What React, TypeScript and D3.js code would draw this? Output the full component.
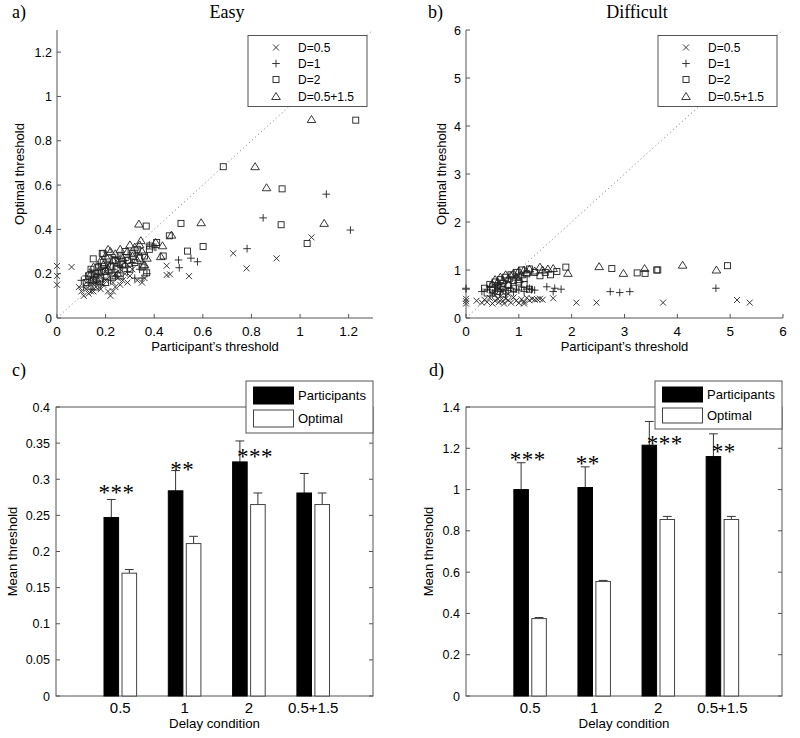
import React from 'react';
import * as d3 from 'd3';

const SANS = '"Liberation Sans", Arial, Helvetica, sans-serif';
const SERIF = '"Liberation Serif", "Times New Roman", serif';

type Pt = [number, number];

// ---------- scatter data (participant threshold, optimal threshold) ----------
const seriesNames = ['D=0.5', 'D=1', 'D=2', 'D=0.5+1.5'];
const markerTypes = ['x', 'plus', 'square', 'triangle'];

const easyD05: Pt[] = [
  [0.10, 0.12], [0.11, 0.10], [0.12, 0.13], [0.13, 0.11], [0.14, 0.15], [0.15, 0.12], [0.15, 0.17], [0.16, 0.14],
  [0.17, 0.16], [0.18, 0.13], [0.18, 0.19], [0.19, 0.15], [0.20, 0.17], [0.20, 0.21], [0.21, 0.12], [0.22, 0.19],
  [0.22, 0.10], [0.23, 0.12], [0.23, 0.16], [0.24, 0.20], [0.25, 0.18], [0.26, 0.22], [0.27, 0.17], [0.28, 0.20],
  [0.29, 0.16], [0.30, 0.19], [0.31, 0.22], [0.33, 0.17], [0.35, 0.16], [0.36, 0.18], [0.13, 0.18], [0.16, 0.20],
  [0.19, 0.22], [0.09, 0.14], [0.12, 0.16], [0.26, 0.15], [0.24, 0.14], [0.21, 0.24], [0.29, 0.24], [0.14, 0.12],
  [0.0, 0.235], [0.0, 0.19], [0.0, 0.15], [0.06, 0.23], [0.451, 0.236], [0.451, 0.194], [0.465, 0.197],
  [0.543, 0.189], [0.725, 0.292], [0.78, 0.224], [0.903, 0.269], [1.047, 0.364],
];
const easyD1: Pt[] = [
  [0.11, 0.14], [0.12, 0.19], [0.13, 0.16], [0.14, 0.21], [0.15, 0.18], [0.16, 0.16], [0.17, 0.20], [0.18, 0.22],
  [0.19, 0.18], [0.20, 0.23], [0.21, 0.20], [0.22, 0.25], [0.23, 0.22], [0.24, 0.19], [0.25, 0.24], [0.26, 0.27],
  [0.27, 0.23], [0.28, 0.26], [0.29, 0.21], [0.30, 0.28], [0.31, 0.25], [0.32, 0.18], [0.33, 0.29], [0.34, 0.22],
  [0.35, 0.18], [0.37, 0.20], [0.38, 0.33], [0.40, 0.32], [0.14, 0.13], [0.18, 0.15], [0.22, 0.17], [0.10, 0.17],
  [0.17, 0.24], [0.24, 0.27], [0.407, 0.319], [0.50, 0.262], [0.503, 0.227], [0.551, 0.27], [0.578, 0.254],
  [0.782, 0.313], [0.848, 0.452], [1.108, 0.559], [1.207, 0.397],
];
const easyD2: Pt[] = [
  [0.12, 0.16], [0.13, 0.19], [0.14, 0.22], [0.15, 0.17], [0.16, 0.20], [0.17, 0.23], [0.18, 0.18], [0.19, 0.25],
  [0.20, 0.21], [0.21, 0.27], [0.22, 0.23], [0.23, 0.19], [0.24, 0.26], [0.25, 0.22], [0.26, 0.28], [0.27, 0.24],
  [0.28, 0.30], [0.29, 0.26], [0.30, 0.22], [0.31, 0.29], [0.32, 0.25], [0.33, 0.31], [0.34, 0.27], [0.35, 0.23],
  [0.36, 0.28], [0.38, 0.31], [0.16, 0.14], [0.20, 0.16], [0.26, 0.19], [0.19, 0.29], [0.149, 0.267],
  [0.186, 0.292], [0.367, 0.415], [0.369, 0.204], [0.382, 0.325], [0.41, 0.341], [0.437, 0.28], [0.462, 0.371],
  [0.51, 0.427], [0.537, 0.302], [0.601, 0.323], [0.684, 0.683], [0.922, 0.421], [0.926, 0.583], [1.029, 0.336],
  [1.229, 0.893],
];
const easyD0515: Pt[] = [
  [0.14, 0.20], [0.15, 0.23], [0.17, 0.21], [0.18, 0.26], [0.19, 0.24], [0.20, 0.28], [0.21, 0.22], [0.22, 0.30],
  [0.23, 0.26], [0.24, 0.29], [0.25, 0.25], [0.26, 0.31], [0.27, 0.27], [0.28, 0.24], [0.29, 0.30], [0.30, 0.33],
  [0.31, 0.28], [0.32, 0.32], [0.33, 0.26], [0.35, 0.30], [0.36, 0.24], [0.37, 0.27], [0.16, 0.18], [0.21, 0.31],
  [0.25, 0.20], [0.34, 0.33], [0.337, 0.424], [0.345, 0.349], [0.357, 0.239], [0.406, 0.341], [0.427, 0.277],
  [0.434, 0.326], [0.471, 0.374], [0.593, 0.43], [0.815, 0.683], [0.862, 0.588], [1.047, 0.896], [1.099, 0.427],
];

const diffD05: Pt[] = [
  [0, 0.30], [0, 0.35], [0, 0.40], [0.2, 0.36], [0.3, 0.32], [0.35, 0.38], [0.4, 0.33], [0.45, 0.42], [0.5, 0.30],
  [0.55, 0.36], [0.6, 0.40], [0.62, 0.33], [0.65, 0.45], [0.7, 0.35], [0.72, 0.30], [0.75, 0.40], [0.8, 0.37],
  [0.85, 0.32], [0.9, 0.43], [0.95, 0.36], [1.0, 0.31], [1.05, 0.39], [1.1, 0.34], [1.15, 0.42], [1.2, 0.37],
  [1.25, 0.40], [1.3, 0.38], [1.35, 0.39], [1.4, 0.40], [1.45, 0.38], [1.1, 0.30], [0.55, 0.48], [0.8, 0.50],
  [0.5, 0.50], [0.68, 0.55], [1.65, 0.41], [2.09, 0.32], [2.47, 0.32], [3.73, 0.32], [5.13, 0.375], [5.37, 0.32],
];
const diffD1: Pt[] = [
  [0, 0.60], [0, 0.62], [0.3, 0.55], [0.4, 0.60], [0.5, 0.52], [0.55, 0.58], [0.6, 0.64], [0.65, 0.55], [0.7, 0.60],
  [0.75, 0.50], [0.8, 0.57], [0.85, 0.62], [0.9, 0.54], [0.95, 0.60], [1.0, 0.58], [1.05, 0.65], [1.1, 0.55],
  [1.15, 0.60], [1.2, 0.62], [1.24, 0.59], [1.3, 0.58], [1.53, 0.65], [1.65, 0.55], [1.68, 0.62], [1.8, 0.60],
  [2.73, 0.55], [2.91, 0.53], [3.1, 0.55], [4.73, 0.62], [0.45, 0.66], [0.6, 0.70],
];
const diffD2: Pt[] = [
  [0.35, 0.62], [0.4, 0.52], [0.45, 0.70], [0.5, 0.60], [0.55, 0.75], [0.6, 0.66], [0.65, 0.80], [0.7, 0.72],
  [0.75, 0.85], [0.8, 0.68], [0.85, 0.90], [0.9, 0.78], [0.95, 0.95], [1.0, 0.85], [1.05, 1.0], [1.1, 0.70],
  [1.15, 0.92], [1.2, 0.60], [1.2, 1.02], [1.3, 0.95], [1.4, 0.88], [1.5, 0.95], [1.6, 0.90], [1.72, 0.97],
  [1.89, 1.06], [2.76, 1.03], [3.24, 0.94], [3.39, 0.93], [3.61, 1.0], [3.63, 1.0], [4.95, 1.09], [0.6, 0.55],
  [0.9, 0.62], [1.0, 0.75], [0.7, 0.50], [1.1, 0.82],
];
const diffD0515: Pt[] = [
  [0.5, 0.70], [0.55, 0.80], [0.6, 0.75], [0.65, 0.85], [0.7, 0.78], [0.75, 0.90], [0.8, 0.82], [0.85, 0.88],
  [0.9, 0.93], [0.95, 0.85], [1.0, 0.98], [1.05, 0.90], [1.1, 1.0], [1.15, 0.95], [1.2, 1.02], [1.3, 0.98],
  [1.4, 1.06], [1.45, 1.0], [1.55, 1.02], [1.65, 1.03], [1.93, 0.93], [2.52, 1.07], [2.98, 0.93], [3.38, 1.03],
  [4.10, 1.10], [4.74, 1.0], [0.6, 0.62], [0.8, 0.70], [1.0, 0.80], [0.7, 0.65],
];

const easyTicks = [0, 0.2, 0.4, 0.6, 0.8, 1, 1.2];
const diffTicks = [0, 1, 2, 3, 4, 5, 6];

// ---------- bar data ----------
const delayConditions = ['0.5', '1', '2', '0.5+1.5'];
const barNames = ['Participants', 'Optimal'];
const easyParticipantMean = [0.247, 0.284, 0.324, 0.281];
const easyParticipantSem = [0.025, 0.028, 0.029, 0.027];
const easyOptimalMean = [0.170, 0.211, 0.265, 0.265];
const easyOptimalSem = [0.005, 0.010, 0.016, 0.016];
const diffParticipantMean = [1.0, 1.01, 1.215, 1.16];
const diffParticipantSem = [0.13, 0.10, 0.115, 0.11];
const diffOptimalMean = [0.375, 0.555, 0.855, 0.855];
const diffOptimalSem = [0.005, 0.005, 0.015, 0.015];
const easyStars = ['***', '**', '***', ''];
const diffStars = ['***', '**', '***', '**'];
const easyBarTicks = [0, 0.05, 0.1, 0.15, 0.2, 0.25, 0.3, 0.35, 0.4];
const diffBarTicks = [0, 0.2, 0.4, 0.6, 0.8, 1, 1.2, 1.4];

const fmt = (v: number) => String(+v.toFixed(2));
const AX = '#555';
const MK = '#222';

function Marker({ type, cx, cy }: { type: string; cx: number; cy: number }) {
  const p = { stroke: MK, strokeWidth: 0.9, fill: 'none' } as any;
  if (type === 'x') return <path d={`M${cx - 3},${cy - 3}L${cx + 3},${cy + 3}M${cx - 3},${cy + 3}L${cx + 3},${cy - 3}`} {...p} />;
  if (type === 'plus') return <path d={`M${cx - 3.8},${cy}L${cx + 3.8},${cy}M${cx},${cy - 3.8}L${cx},${cy + 3.8}`} {...p} />;
  if (type === 'square') return <rect x={cx - 3} y={cy - 3} width={6} height={6} {...p} />;
  return <path d={`M${cx},${cy - 4}L${cx + 4.3},${cy + 3}L${cx - 4.3},${cy + 3}Z`} {...p} />;
}

function Scatter(props: {
  left: number; right: number; top: number; bottom: number; max: number; ticks: number[];
  series: Pt[][]; letter: string; title: string; titleX: number; letterX: number; ylabX: number;
}) {
  const { left, right, top, bottom, max, ticks, series } = props;
  const x = d3.scaleLinear().domain([0, max]).range([left, right]);
  const y = d3.scaleLinear().domain([0, max]).range([bottom, top]);
  const lgW = 119, lgH = 71;
  const lgX = right - 6 - lgW, lgY = top + 5.5;
  const rows = [12, 28, 44, 61];
  return (
    <g>
      <text x={props.letterX} y={18} fontFamily={SERIF} fontSize={18}>{props.letter}</text>
      <text x={props.titleX} y={18} fontFamily={SERIF} fontSize={18} textAnchor="middle">{props.title}</text>
      <line x1={x(0)} y1={y(0)} x2={x(max)} y2={y(max)} stroke="#777" strokeWidth={1} strokeDasharray="1,3" />
      {series.map((s, i) => s.map((d, j) => <Marker key={i + '-' + j} type={markerTypes[i]} cx={x(d[0])} cy={y(d[1])} />))}
      <line x1={left} y1={bottom} x2={right} y2={bottom} stroke={AX} />
      <line x1={left} y1={bottom} x2={left} y2={top} stroke={AX} />
      {ticks.map(t => (
        <g key={'t' + t}>
          <line x1={x(t)} x2={x(t)} y1={bottom} y2={bottom - 4} stroke={AX} />
          <line x1={left} x2={left + 4} y1={y(t)} y2={y(t)} stroke={AX} />
          <text x={x(t)} y={bottom + 18} fontFamily={SANS} fontSize={13.5} textAnchor="middle">{fmt(t)}</text>
          <text x={left - 5} y={y(t) + 4.5} fontFamily={SANS} fontSize={12.5} textAnchor="end">{fmt(t)}</text>
        </g>
      ))}
      <text x={(left + right) / 2} y={351} fontFamily={SANS} fontSize={13} textAnchor="middle">Participant’s threshold</text>
      <text transform={`translate(${props.ylabX},${(top + bottom) / 2}) rotate(-90)`} fontFamily={SANS} fontSize={13} textAnchor="middle">Optimal threshold</text>
      <rect x={lgX} y={lgY} width={lgW} height={lgH} fill="#fff" stroke={AX} />
      {seriesNames.map((n, i) => (
        <g key={n}>
          <Marker type={markerTypes[i]} cx={lgX + 28} cy={lgY + rows[i]} />
          <text x={lgX + 50} y={lgY + rows[i] + 4.5} fontFamily={SANS} fontSize={12}>{n}</text>
        </g>
      ))}
    </g>
  );
}

function Bars(props: {
  left: number; right: number; top: number; bottom: number; max: number; ticks: number[];
  pMean: number[]; pSem: number[]; oMean: number[]; oSem: number[]; stars: string[];
  starPos: [number, number][]; letter: string; letterX: number; ylabX: number; lgTop: number; lgH: number;
}) {
  const { left, right, top, bottom, max, ticks } = props;
  const x = d3.scaleLinear().domain([0, 4.93]).range([left, right]);
  const y = d3.scaleLinear().domain([0, max]).range([bottom, top]);
  const bw = x(0.227) - x(0);
  const off = 0.14;
  const cap = 4.4;
  const lgW = 127, lgX = right - lgW;
  const sw = [props.lgTop + 6, props.lgTop + props.lgH / 2 + 3];
  const swH = (props.lgH - 18) / 2;
  const bar = (i: number, m: number, s: number, dark: boolean) => {
    const cx = x(i + 1 + (dark ? -off : off));
    return (
      <g key={(dark ? 'p' : 'o') + i}>
        <line x1={cx} x2={cx} y1={y(m)} y2={y(m + s)} stroke="#333" />
        <line x1={cx - cap} x2={cx + cap} y1={y(m + s)} y2={y(m + s)} stroke="#333" />
        <rect x={cx - bw / 2} y={y(m)} width={bw} height={y(0) - y(m)} fill={dark ? '#000' : '#fff'} stroke={dark ? '#000' : '#444'} strokeWidth={1} />
      </g>
    );
  };
  return (
    <g>
      <text x={props.letterX} y={376} fontFamily={SERIF} fontSize={18}>{props.letter}</text>
      <rect x={left} y={top} width={right - left} height={bottom - top} fill="none" stroke={AX} />
      {ticks.map(t => (
        <g key={'t' + t}>
          <line x1={left} x2={left + 4} y1={y(t)} y2={y(t)} stroke={AX} />
          <line x1={right} x2={right - 4} y1={y(t)} y2={y(t)} stroke={AX} />
          <text x={left - 6} y={y(t) + 4.5} fontFamily={SANS} fontSize={12.5} textAnchor="end">{fmt(t)}</text>
        </g>
      ))}
      {props.pMean.map((m, i) => bar(i, m, props.pSem[i], true))}
      {props.oMean.map((m, i) => bar(i, m, props.oSem[i], false))}
      {props.stars.map((s, i) => s ? (
        <text key={'s' + i} x={x(i + 1 + props.starPos[i][0])} y={y(props.starPos[i][1]) + 11} fontFamily={SERIF} fontSize={23} letterSpacing={0.5} textAnchor="middle">{s}</text>
      ) : null)}
      {delayConditions.map((c, i) => (
        <text key={c} x={x(i + 1)} y={713} fontFamily={SANS} fontSize={15} textAnchor="middle">{c}</text>
      ))}
      <text x={(left + right) / 2} y={728} fontFamily={SANS} fontSize={13.3} textAnchor="middle">Delay condition</text>
      <text transform={`translate(${props.ylabX},${(top + bottom) / 2}) rotate(-90)`} fontFamily={SANS} fontSize={13} textAnchor="middle">Mean threshold</text>
      <rect x={lgX} y={props.lgTop} width={lgW} height={props.lgH} fill="#fff" stroke={AX} />
      {barNames.map((n, i) => (
        <g key={n}>
          <rect x={lgX + 7.5} y={sw[i]} width={40} height={swH} fill={i === 0 ? '#000' : '#fff'} stroke={i === 0 ? '#000' : '#444'} />
          <text x={lgX + 52} y={sw[i] + swH / 2 + 4.8} fontFamily={SANS} fontSize={13}>{n}</text>
        </g>
      ))}
    </g>
  );
}

export default function App() {
  return (
    <svg width={800} height={738} style={{ position: 'absolute', left: 0, top: 0, background: '#fff' }}>
      <rect width={800} height={738} fill="#fff" />
      <Scatter left={57} right={373} top={30} bottom={318} max={1.3} ticks={easyTicks}
        series={[easyD05, easyD1, easyD2, easyD0515]} letter="a)" title="Easy" titleX={227} letterX={12} ylabX={24} />
      <Scatter left={466} right={783} top={30} bottom={318} max={6} ticks={diffTicks}
        series={[diffD05, diffD1, diffD2, diffD0515]} letter="b)" title="Difficult" titleX={637} letterX={428} ylabX={446} />
      <Bars left={56} right={373} top={407} bottom={696} max={0.4} ticks={easyBarTicks}
        pMean={easyParticipantMean} pSem={easyParticipantSem} oMean={easyOptimalMean} oSem={easyOptimalSem}
        stars={easyStars} starPos={[[-0.06, 0.287], [-0.036, 0.319], [0.095, 0.337], [0, 0]]}
        letter="c)" letterX={12} ylabX={17} lgTop={381} lgH={52} />
      <Bars left={466} right={782} top={407} bottom={696} max={1.4} ticks={diffBarTicks}
        pMean={diffParticipantMean} pSem={diffParticipantSem} oMean={diffOptimalMean} oSem={diffOptimalSem}
        stars={diffStars} starPos={[[-0.037, 1.162], [-0.1, 1.141], [0.10, 1.239], [0.02, 1.202]]}
        letter="d)" letterX={429} ylabX={433} lgTop={381} lgH={48} />
    </svg>
  );
}
